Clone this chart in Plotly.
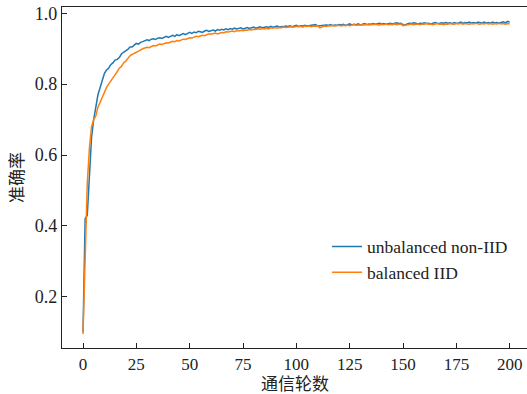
import plotly.graph_objects as go

# Rounds 0..200
unbalanced_non_iid = [
    0.10, 0.42, 0.43, 0.55, 0.65, 0.70, 0.74, 0.77, 0.79, 0.81,
    0.83, 0.84, 0.845, 0.855, 0.86, 0.868, 0.87, 0.875, 0.885, 0.89,
    0.893, 0.898, 0.905, 0.905, 0.91, 0.915,
    0.913, 0.918, 0.92, 0.922, 0.925, 0.923, 0.927, 0.928, 0.926, 0.93,
    0.931, 0.929, 0.933, 0.935, 0.932, 0.936, 0.938, 0.935, 0.94, 0.937,
    0.941, 0.943, 0.94, 0.944, 0.946, 0.943, 0.947, 0.945, 0.949, 0.948,
    0.946, 0.95, 0.952, 0.949, 0.951, 0.953, 0.95, 0.954, 0.952, 0.955,
    0.953, 0.956, 0.954, 0.957, 0.955, 0.958, 0.956, 0.957, 0.959, 0.956,
    0.958, 0.96, 0.957, 0.959, 0.961, 0.958, 0.96, 0.962, 0.959, 0.961,
    0.962, 0.96, 0.963, 0.961, 0.962, 0.964, 0.961, 0.963, 0.962, 0.964,
    0.963, 0.965, 0.962, 0.964, 0.966, 0.963, 0.965, 0.964, 0.966, 0.964,
    0.965, 0.967, 0.966, 0.968, 0.964, 0.965, 0.966, 0.965, 0.967, 0.966,
    0.968, 0.965, 0.967, 0.966, 0.968, 0.967, 0.969, 0.966, 0.968, 0.97,
    0.967, 0.969, 0.968, 0.97, 0.967, 0.969, 0.971, 0.968, 0.97, 0.969,
    0.971, 0.969, 0.97, 0.972, 0.97, 0.971, 0.969, 0.971, 0.972, 0.97,
    0.971, 0.973, 0.971, 0.972, 0.968, 0.967, 0.97, 0.972, 0.971, 0.973,
    0.972, 0.97, 0.972, 0.971, 0.973, 0.971, 0.972, 0.97, 0.972, 0.974,
    0.972, 0.971, 0.973, 0.972, 0.974, 0.972, 0.973, 0.971, 0.974, 0.972,
    0.973, 0.975, 0.972, 0.974, 0.973, 0.975, 0.972, 0.974, 0.973, 0.975,
    0.974, 0.972, 0.975, 0.973, 0.974, 0.972, 0.975, 0.973, 0.974, 0.972,
    0.974, 0.976, 0.973, 0.977, 0.975,
]

balanced_iid = [
    0.095, 0.30, 0.52, 0.62, 0.68, 0.70, 0.71, 0.735, 0.75, 0.76,
    0.775, 0.79, 0.80, 0.81, 0.82, 0.826, 0.835, 0.845, 0.85, 0.86,
    0.865, 0.873, 0.88, 0.884, 0.886, 0.89,
    0.893, 0.897, 0.9, 0.902, 0.904, 0.903, 0.907, 0.909, 0.908, 0.911,
    0.913, 0.912, 0.915, 0.917, 0.916, 0.919, 0.921, 0.92, 0.923, 0.922,
    0.925, 0.927, 0.926, 0.929, 0.931, 0.93, 0.933, 0.935, 0.934, 0.937,
    0.938, 0.937, 0.94, 0.942, 0.941, 0.943, 0.944, 0.942, 0.945, 0.946,
    0.945, 0.948, 0.947, 0.949, 0.95, 0.948, 0.951, 0.95, 0.952, 0.951,
    0.953, 0.952, 0.954, 0.953, 0.955, 0.954, 0.956, 0.955, 0.957, 0.956,
    0.958, 0.956, 0.959, 0.958, 0.96, 0.958, 0.96, 0.959, 0.961, 0.96,
    0.961, 0.96, 0.962, 0.961, 0.963, 0.962, 0.963, 0.961, 0.964, 0.963,
    0.964, 0.962, 0.964, 0.963, 0.965, 0.959, 0.962, 0.964, 0.963, 0.965,
    0.964, 0.966, 0.964, 0.965, 0.966, 0.964, 0.966, 0.965, 0.967, 0.965,
    0.966, 0.968, 0.966, 0.967, 0.966, 0.968, 0.967, 0.969, 0.967, 0.968,
    0.967, 0.969, 0.968, 0.967, 0.969, 0.968, 0.97, 0.968, 0.969, 0.968,
    0.97, 0.968, 0.969, 0.97, 0.965, 0.966, 0.968, 0.969, 0.97, 0.968,
    0.969, 0.97, 0.968, 0.97, 0.969, 0.971, 0.969, 0.97, 0.968, 0.97,
    0.971, 0.969, 0.97, 0.968, 0.97, 0.969, 0.971, 0.97, 0.969, 0.971,
    0.97, 0.972, 0.969, 0.971, 0.97, 0.969, 0.971, 0.97, 0.972, 0.97,
    0.969, 0.971, 0.97, 0.972, 0.97, 0.971, 0.969, 0.971, 0.97, 0.972,
    0.97, 0.971, 0.969, 0.971, 0.97,
]

series_names = ["unbalanced non-IID", "balanced IID"]
x_ticks = [0, 25, 50, 75, 100, 125, 150, 175, 200]
y_ticks = [0.2, 0.4, 0.6, 0.8, 1.0]
x_title = "通信轮数"
y_title = "准确率"

colors = ["#1f77b4", "#ff7f0e"]
serif = "'Times New Roman', 'Liberation Serif', serif"
cjk = "'Noto Sans CJK SC', sans-serif"

fig = go.Figure()
for name, vals, c in zip(series_names, [unbalanced_non_iid, balanced_iid], colors):
    fig.add_trace(go.Scatter(
        x=list(range(len(vals))), y=vals, mode="lines", name=name,
        line=dict(color=c, width=1.5),
    ))

fig.update_layout(
    width=527, height=394,
    margin=dict(l=62, r=0, t=7, b=46),
    plot_bgcolor="white", paper_bgcolor="white",
    font=dict(family=serif, size=18, color="#222"),
    showlegend=True,
    legend=dict(
        x=0.57, y=0.35, xanchor="left", yanchor="top",
        bgcolor="rgba(0,0,0,0)", borderwidth=0,
        font=dict(family=serif, size=17.5, color="#222"),
        tracegroupgap=0,
    ),
    annotations=[dict(
        text=x_title, xref="paper", yref="paper", x=0.5, y=0,
        yshift=-34, xanchor="center", yanchor="middle", showarrow=False,
        font=dict(family=cjk, size=17, color="#222"),
    )],
)
fig.update_xaxes(
    range=[-9.85, 208.1], tickvals=x_ticks, ticktext=[str(v) for v in x_ticks],
    tickfont=dict(family=serif, size=17, color="#222"),
    ticks="inside", ticklen=5, tickwidth=1, tickcolor="#222",
    showline=True, linecolor="#222", linewidth=1.2, mirror=True,
    showgrid=False, zeroline=False,
)
fig.update_yaxes(
    range=[0.0552, 1.0178], tickvals=y_ticks, ticktext=[f"{v:.1f}" for v in y_ticks],
    tickfont=dict(family=serif, size=18, color="#222"),
    ticks="inside", ticklen=5, tickwidth=1, tickcolor="#222",
    showline=True, linecolor="#222", linewidth=1.2, mirror=False,
    showgrid=False, zeroline=False,
    title=dict(text=y_title, font=dict(family=cjk, size=17, color="#222"), standoff=6),
)

fig.write_html("out.html")
